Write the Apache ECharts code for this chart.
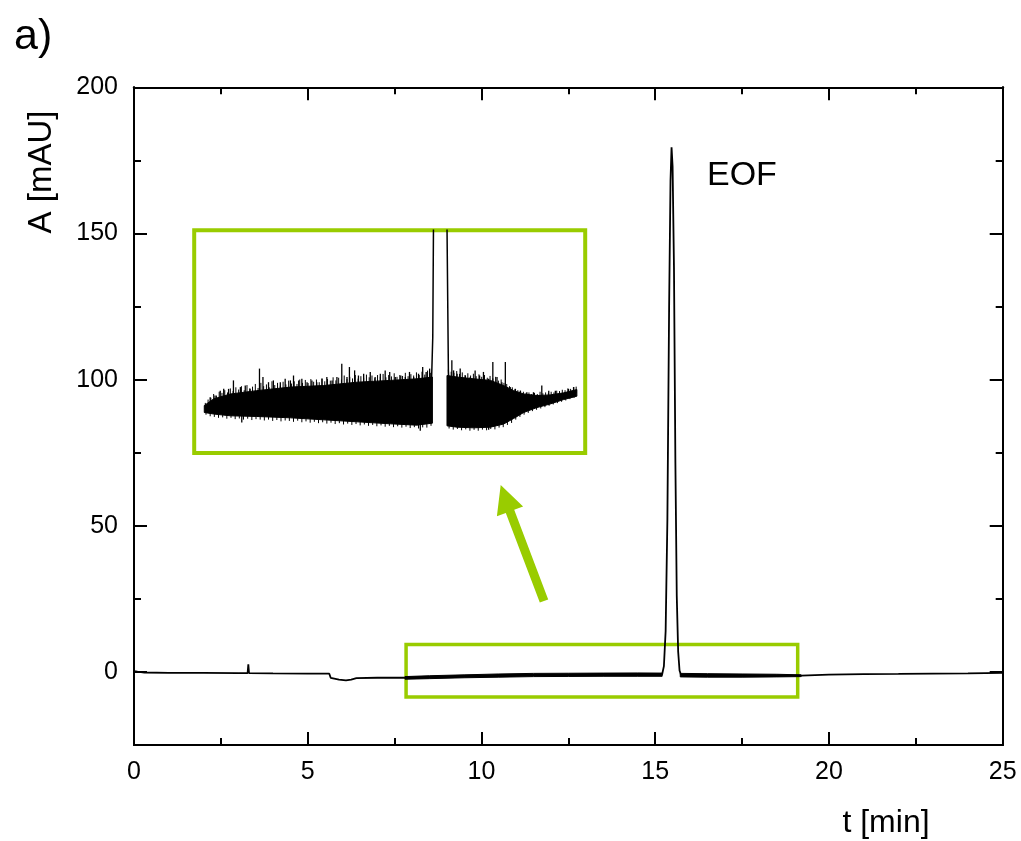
<!DOCTYPE html>
<html><head><meta charset="utf-8">
<script src="https://cdn.jsdelivr.net/npm/echarts@6/dist/echarts.min.js"></script>
<style>html,body{margin:0;padding:0;background:#fff}#c{width:1021px;height:841px}</style>
</head><body><div id="c"></div>
<script>
// ---------- data ----------
const mainT = [0, 0.1, 0.3, 1, 2, 3, 3.27, 3.29, 3.31, 4, 5, 5.62, 5.66, 5.9, 6.1, 6.25, 6.4, 7, 7.8, 8.5, 9.5, 10.5, 11.5, 12.5, 13.5, 14.5, 15.1, 15.15, 15.2, 15.25, 15.3, 15.35, 15.4, 15.44, 15.47, 15.5, 15.54, 15.58, 15.62, 15.66, 15.7, 15.74, 16.5, 17.5, 18.5, 19.2, 20, 21, 22, 23, 24, 25];
const mainA = [0.3, 0.1, -0.2, -0.3, -0.35, -0.4, -0.4, 2.6, -0.4, -0.5, -0.55, -0.6, -2.0, -2.6, -2.9, -2.6, -2.1, -2.0, -2.0, -1.8, -1.5, -1.25, -1.05, -1.0, -0.95, -0.95, -0.95, -1.0, -0.8, 2, 14, 52, 125, 168, 179.5, 173, 138, 72, 26, 7, 0.5, -1.0, -1.2, -1.25, -1.3, -1.3, -0.9, -0.75, -0.7, -0.6, -0.5, -0.3];

// noise band of the main trace (null = gap at the peak)
const bandT  = [7.8, 8.5, 9.5, 10.5, 11.5, 12.5, 13.5, 14.5, 15.2, null, 15.72, 16.5, 17.5, 18.5, 19.2];
const bandLo = [-2.5, -2.3, -2.0, -1.8, -1.6, -1.55, -1.5, -1.5, -1.5, null, -1.7, -1.8, -1.8, -1.7, -1.6];
const bandHi = [-1.6, -1.3, -1.0, -0.7, -0.5, -0.45, -0.4, -0.35, -0.4, null, -0.5, -0.6, -0.7, -0.8, -1.0];

// inset (zoomed) noise band
const insetT  = [8.67, 8.94, 9.42, 10.18, 11.15, 12.11, 13.07, 14.03, 14.79, 15.24, null, 15.66, 15.95, 16.43, 16.91, 17.29, 17.58, 17.87, 18.25, 18.63, 19.02, 19.40];
const insetLo = [-1.38, -1.45, -1.53, -1.56, -1.62, -1.71, -1.80, -1.89, -1.95, -1.86, null, -1.98, -2.04, -2.07, -2.04, -1.90, -1.65, -1.38, -1.16, -1.00, -0.80, -0.65];
const insetHi = [-1.07, -0.77, -0.55, -0.40, -0.24, -0.17, -0.02, 0.06, 0.13, 0.21, null, 0.28, 0.21, 0.13, 0.06, -0.17, -0.40, -0.55, -0.62, -0.59, -0.50, -0.35];

// inset: tall noise spikes (tips)
const spikeT = [8.84, 8.98, 9.13, 9.23, 9.37, 9.51, 9.71, 9.75, 9.85, 9.99, 10.26, 10.36, 10.52, 10.66, 10.86, 11.00, 11.15, 11.24, 11.39, 11.48, 11.63, 11.77, 11.91, 12.06, 12.20, 12.35, 12.49, 12.63, 12.78, 12.85, 13.00, 13.11, 13.26, 13.45, 13.59, 13.74, 13.88, 14.01, 14.17, 14.33, 14.46, 14.58, 14.70, 14.84, 14.89, 14.96, 15.06, 15.16, 15.80, 15.85, 15.95, 16.04, 16.19, 16.33, 16.47, 16.52, 16.60, 16.71, 16.86, 16.86, 16.98, 17.10, 17.24, 17.34, 17.48, 17.63, 17.77, 17.96, 18.15, 18.39, 18.59, 18.78, 19.16, 19.31];
const spikeA = [-0.70, -0.62, -0.40, -0.32, -0.32, 0.06, -0.24, -1.83, -0.17, -0.32, 0.59, 0.21, -0.02, 0.06, -0.02, 0.13, 0.06, 0.28, 0.06, 0.13, -0.02, 0.06, -0.02, 0.13, 0.21, 0.06, 0.21, 0.81, 0.21, 0.66, 0.51, 0.28, 0.36, 0.44, 0.21, 0.36, 0.51, 0.44, 0.21, 0.28, 0.21, 0.44, 0.21, 0.36, -2.20, 0.66, 0.44, 0.59, 0.96, 0.51, 0.36, 0.59, 0.28, 0.21, 0.51, -2.05, 0.28, 0.44, 0.13, -2.16, 0.89, 0.21, -0.02, 0.89, -0.24, -0.32, -0.40, -0.47, -0.47, -0.17, -0.40, -0.40, -0.32, -0.24];

// inset: dense upper fringe of the noise (tips)
const fringeUpT = [8.70, 8.78, 8.86, 8.94, 9.02, 9.10, 9.18, 9.26, 9.34, 9.42, 9.50, 9.58, 9.66, 9.74, 9.82, 9.90, 9.98, 10.06, 10.14, 10.22, 10.30, 10.38, 10.46, 10.54, 10.62, 10.70, 10.78, 10.86, 10.94, 11.02, 11.10, 11.18, 11.26, 11.34, 11.42, 11.50, 11.58, 11.66, 11.74, 11.82, 11.90, 11.98, 12.06, 12.14, 12.22, 12.30, 12.38, 12.46, 12.54, 12.62, 12.70, 12.78, 12.86, 12.94, 13.02, 13.10, 13.18, 13.26, 13.34, 13.42, 13.50, 13.58, 13.66, 13.74, 13.82, 13.90, 13.98, 14.06, 14.14, 14.22, 14.30, 14.38, 14.46, 14.54, 14.62, 14.70, 14.78, 14.86, 14.94, 15.02, 15.10, 15.18,
  15.70, 15.78, 15.86, 15.94, 16.02, 16.10, 16.18, 16.26, 16.34, 16.42, 16.50, 16.58, 16.66, 16.74, 16.82, 16.90, 16.98, 17.06, 17.14, 17.22, 17.30, 17.38, 17.46, 17.54, 17.62, 17.70, 17.78, 17.86, 17.94, 18.02, 18.10, 18.18, 18.26, 18.34, 18.42, 18.50, 18.58, 18.66, 18.74, 18.82, 18.90, 18.98, 19.06, 19.14, 19.22, 19.30, 19.38];
const fringeUpA = [-0.95, -0.80, -0.72, -0.55, -0.62, -0.45, -0.50, -0.38, -0.48, -0.30, -0.42, -0.25, -0.35, -0.20, -0.38, -0.15, -0.30, -0.22, -0.10, -0.28, -0.05, -0.20, -0.12, -0.25, 0.02, -0.15, -0.05, -0.18, 0.00, -0.12, 0.05, -0.08, 0.02, -0.10, 0.10, -0.05, 0.08, -0.06, 0.12, 0.00, 0.10, -0.02, 0.15, 0.02, 0.12, 0.05, 0.20, 0.06, 0.18, 0.10, 0.28, 0.12, 0.22, 0.15, 0.30, 0.14, 0.25, 0.18, 0.32, 0.20, 0.28, 0.16, 0.30, 0.22, 0.35, 0.20, 0.30, 0.24, 0.38, 0.22, 0.30, 0.26, 0.40, 0.25, 0.34, 0.28, 0.42, 0.30, 0.45, 0.32, 0.50, 0.40,
  0.55, 0.45, 0.40, 0.48, 0.35, 0.42, 0.30, 0.38, 0.28, 0.36, 0.25, 0.33, 0.22, 0.30, 0.18, 0.26, 0.15, 0.22, 0.05, 0.10, -0.05, -0.10, -0.20, -0.25, -0.32, -0.38, -0.40, -0.45, -0.50, -0.48, -0.55, -0.50, -0.55, -0.45, -0.52, -0.48, -0.50, -0.45, -0.48, -0.40, -0.42, -0.36, -0.38, -0.30, -0.32, -0.25, -0.22];

// inset: lower fringe of the noise (tips)
const fringeDnT = [8.72, 8.84, 8.96, 9.08, 9.20, 9.32, 9.44, 9.56, 9.68, 9.80, 9.92, 10.04, 10.16, 10.28, 10.40, 10.52, 10.64, 10.76, 10.88, 11.00, 11.12, 11.24, 11.36, 11.48, 11.60, 11.72, 11.84, 11.96, 12.08, 12.20, 12.32, 12.44, 12.56, 12.68, 12.80, 12.92, 13.04, 13.16, 13.28, 13.40, 13.52, 13.64, 13.76, 13.88, 14.00, 14.12, 14.24, 14.36, 14.48, 14.60, 14.72, 14.84, 14.96, 15.08, 15.20,
  15.72, 15.84, 15.96, 16.08, 16.20, 16.32, 16.44, 16.56, 16.68, 16.80, 16.92, 17.04, 17.16, 17.28, 17.40, 17.52, 17.64, 17.76, 17.88, 18.00, 18.12, 18.24, 18.36, 18.48, 18.60, 18.72, 18.84, 18.96, 19.08, 19.20, 19.32];
const fringeDnA = [-1.48, -1.55, -1.58, -1.62, -1.60, -1.66, -1.62, -1.68, -1.65, -1.70, -1.66, -1.72, -1.68, -1.70, -1.74, -1.70, -1.76, -1.72, -1.78, -1.74, -1.76, -1.80, -1.75, -1.82, -1.78, -1.84, -1.80, -1.86, -1.82, -1.88, -1.84, -1.90, -1.86, -1.92, -1.88, -1.94, -1.90, -1.96, -1.92, -1.98, -1.94, -2.00, -1.96, -2.02, -1.98, -2.04, -2.00, -2.06, -2.02, -2.08, -2.04, -2.10, -2.05, -2.06, -1.98,
  -2.10, -2.15, -2.12, -2.18, -2.14, -2.20, -2.16, -2.20, -2.15, -2.18, -2.12, -2.14, -2.06, -2.04, -1.94, -1.85, -1.70, -1.58, -1.48, -1.40, -1.32, -1.26, -1.20, -1.14, -1.08, -1.02, -0.96, -0.90, -0.84, -0.78, -0.72];

const yMajorTicks = [0, 50, 100, 150, 200];
const yMinorTicks = [-25, 25, 75, 125, 175];

// ---------- styles ----------
const FONT = '"Liberation Sans", Arial, sans-serif';
const GREEN = '#99cc00';

function bandRenderer(T, Lo, Hi) {
  return function (params, api) {
    if (params.dataIndex !== 0) return null;
    const segs = [];
    let cur = null;
    for (let i = 0; i < T.length; i++) {
      if (T[i] === null) { cur = null; continue; }
      if (!cur) { cur = { top: [], bot: [] }; segs.push(cur); }
      cur.top.push(api.coord([T[i], Hi[i]]));
      cur.bot.push(api.coord([T[i], Lo[i]]));
    }
    return {
      type: 'group',
      children: segs.map(s => ({
        type: 'polygon',
        shape: { points: s.top.concat(s.bot.slice().reverse()) },
        style: { fill: '#000', stroke: '#000', lineWidth: 1 }
      }))
    };
  };
}

// middle of the inset band at t (for rooting the spikes inside the band)
function bandMid(t) {
  let best = null;
  for (let i = 0; i < insetT.length - 1; i++) {
    const a = insetT[i], b = insetT[i + 1];
    if (a === null || b === null) continue;
    if (t >= a && t <= b) {
      const f = (t - a) / (b - a);
      const lo = insetLo[i] + f * (insetLo[i + 1] - insetLo[i]);
      const hi = insetHi[i] + f * (insetHi[i + 1] - insetHi[i]);
      return (lo + hi) / 2;
    }
  }
  // nearest end
  let d = Infinity;
  for (let i = 0; i < insetT.length; i++) {
    if (insetT[i] === null) continue;
    const dd = Math.abs(insetT[i] - t);
    if (dd < d) { d = dd; best = (insetLo[i] + insetHi[i]) / 2; }
  }
  return best;
}

function spikeRenderer(width) {
  return function (params, api) {
    const t = api.value(0), v = api.value(1);
    const p0 = api.coord([t, bandMid(t)]);
    const p1 = api.coord([t, v]);
    return { type: 'line', shape: { x1: p0[0], y1: p0[1], x2: p1[0], y2: p1[1] }, style: { stroke: '#000', lineWidth: width } };
  };
}

const xCommon = {
  type: 'value', min: 0, max: 25, interval: 5, gridIndex: 0,
  axisLine: { show: true, onZero: false, lineStyle: { color: '#000', width: 2 } },
  axisTick: { show: true, inside: true, length: 13, lineStyle: { color: '#000', width: 2 } },
  minorTick: { show: true, splitNumber: 2, length: 7, lineStyle: { color: '#000', width: 2 } },
  splitLine: { show: false }, minorSplitLine: { show: false }
};
function yAx(pos, ticks, len, labels) {
  return {
    type: 'value', min: -25, max: 200, interval: 25, gridIndex: 0, position: pos,
    axisLine: { show: true, onZero: false, lineStyle: { color: '#000', width: 2 } },
    axisTick: { show: true, inside: true, length: len, customValues: ticks, lineStyle: { color: '#000', width: 2 } },
    axisLabel: labels ? { show: true, customValues: ticks, fontSize: 25, color: '#000', fontFamily: FONT, margin: 16 } : { show: false },
    splitLine: { show: false }
  };
}

const insetData = (T, A) => T.map((t, i) => [t, A[i]]);

const chart = echarts.init(document.getElementById('c'), null, { renderer: 'canvas' });
chart.setOption({
  animation: false,
  backgroundColor: '#fff',
  grid: [
    { left: 134, top: 87.3, width: 868.7, height: 657.7 },
    { left: 194.2, top: 230.3, width: 391, height: 222.7, show: true, borderColor: GREEN, borderWidth: 4, backgroundColor: '#fff' }
  ],
  xAxis: [
    Object.assign({}, xCommon, { position: 'bottom', axisLabel: { fontSize: 25, color: '#000', fontFamily: FONT, margin: 15 } }),
    Object.assign({}, xCommon, { position: 'top', axisLabel: { show: false } }),
    { type: 'value', gridIndex: 1, min: 8.38, max: 19.64, show: false, splitLine: { show: false } }
  ],
  yAxis: [
    yAx('left', yMajorTicks, 13, true),
    yAx('left', yMinorTicks, 7, false),
    yAx('right', yMajorTicks, 13, false),
    yAx('right', yMinorTicks, 7, false),
    { type: 'value', gridIndex: 1, min: -3.2, max: 6.8, show: false, splitLine: { show: false } }
  ],
  series: [
    {
      type: 'custom', xAxisIndex: 0, yAxisIndex: 0, silent: true,
      renderItem: bandRenderer(bandT, bandLo, bandHi),
      data: bandT.filter(t => t !== null).map(t => [t, 0]),
      encode: { x: 0, y: 1 }, z: 2
    },
    {
      type: 'line', xAxisIndex: 0, yAxisIndex: 0, silent: true,
      data: mainT.map((t, i) => [t, mainA[i]]),
      showSymbol: false, symbol: 'none',
      lineStyle: { color: '#000', width: 1.8 }, z: 3,
      markArea: {
        silent: true,
        itemStyle: { color: 'rgba(0,0,0,0)', borderColor: GREEN, borderWidth: 3.5 },
        data: [[{ xAxis: 7.83, yAxis: 9.34 }, { xAxis: 19.10, yAxis: -8.62 }]]
      }
    },
    {
      type: 'custom', xAxisIndex: 2, yAxisIndex: 4, silent: true,
      renderItem: bandRenderer(insetT, insetLo, insetHi),
      data: insetT.filter(t => t !== null).map(t => [t, 0]),
      encode: { x: 0, y: 1 }, z: 4
    },
    {
      type: 'custom', xAxisIndex: 2, yAxisIndex: 4, silent: true,
      renderItem: spikeRenderer(1),
      data: insetData(fringeUpT, fringeUpA).concat(insetData(fringeDnT, fringeDnA)),
      encode: { x: 0, y: 1 }, z: 5
    },
    {
      type: 'custom', xAxisIndex: 2, yAxisIndex: 4, silent: true,
      renderItem: spikeRenderer(1.3),
      data: insetData(spikeT, spikeA),
      encode: { x: 0, y: 1 }, z: 5
    },
    {
      type: 'line', xAxisIndex: 2, yAxisIndex: 4, silent: true, clip: true,
      data: mainT.map((t, i) => [t, mainA[i]]).filter(d => d[0] >= 15.2 && d[0] <= 15.74),
      showSymbol: false, symbol: 'none',
      lineStyle: { color: '#000', width: 1.5 }, z: 5
    }
  ],
  graphic: [
    { type: 'text', x: 14, y: 37, style: { text: 'a)', font: '43px ' + FONT, fill: '#000', textAlign: 'left', textVerticalAlign: 'middle', align: 'left', verticalAlign: 'middle' } },
    { type: 'text', x: 42, y: 172, rotation: Math.PI / 2, style: { text: 'A [mAU]', font: '33px ' + FONT, fill: '#000', textAlign: 'center', textVerticalAlign: 'middle', align: 'center', verticalAlign: 'middle' } },
    { type: 'text', x: 886, y: 823, style: { text: 't [min]', font: '32px ' + FONT, fill: '#000', textAlign: 'center', textVerticalAlign: 'middle', align: 'center', verticalAlign: 'middle' } },
    { type: 'text', x: 707, y: 176, style: { text: 'EOF', font: '34px ' + FONT, fill: '#000', textAlign: 'left', textVerticalAlign: 'middle', align: 'left', verticalAlign: 'middle' } },
    { type: 'polygon', z: 10, shape: { points: [[500.7, 485], [523.1, 506.4], [514.2, 509.7], [548.2, 599.4], [539.8, 602.6], [505.8, 512.9], [496.9, 516.2]] }, style: { fill: GREEN } }
  ]
});
</script></body></html>
